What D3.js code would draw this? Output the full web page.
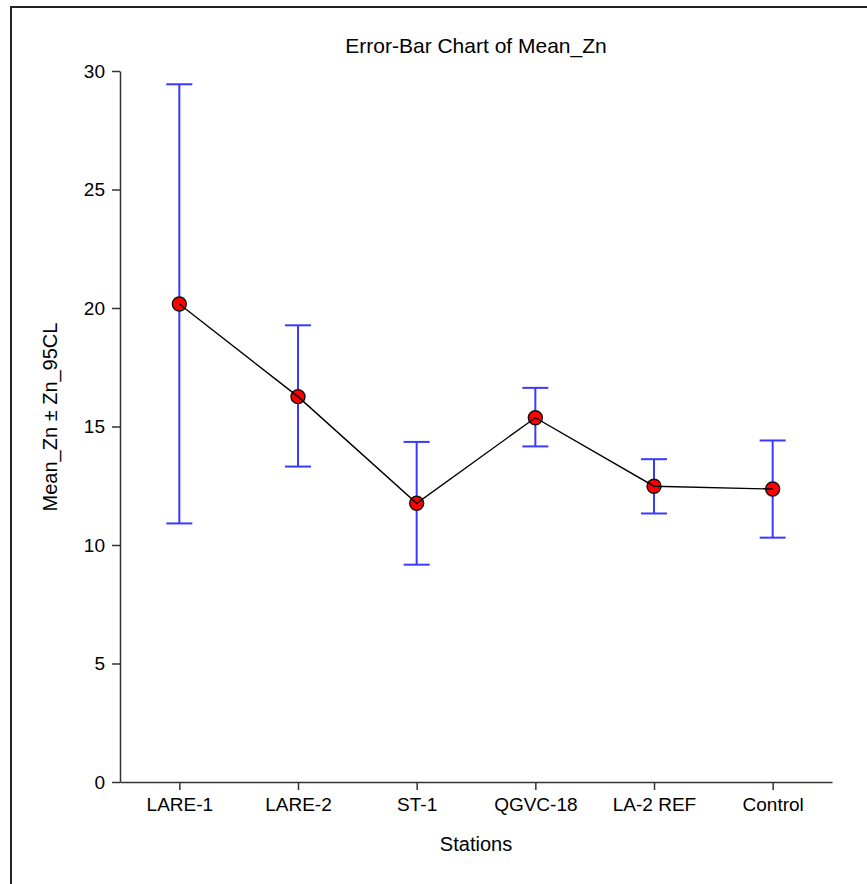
<!DOCTYPE html>
<html>
<head>
<meta charset="utf-8">
<script src="https://cdn.jsdelivr.net/npm/d3@7"></script>
<style>
  body { margin: 0; background: #fff; }
  text { font-family: "Liberation Sans", Arial, sans-serif; fill: #000; }
</style>
</head>
<body>
<div id="chart"></div>
<script>
// values
const stations = ["LARE-1", "LARE-2", "ST-1", "QGVC-18", "LA-2 REF", "Control"]
const meanZn   = [20.17, 16.26, 11.76, 15.37, 12.48, 12.36]
const upperCL  = [29.44, 19.27, 14.35, 16.63, 13.62, 14.41]
const lowerCL  = [10.91, 13.31, 9.17, 14.16, 11.33, 10.31]
const yTicks   = [0, 5, 10, 15, 20, 25, 30]

const width = 867, height = 884
const margin = { left: 120, right: 35, top: 71, bottom: 102 }

const svg = d3.select("#chart").append("svg")
  .attr("width", width)
  .attr("height", height)

// outer frame
svg.append("rect")
  .attr("x", 11).attr("y", 7)
  .attr("width", width + 20).attr("height", height + 20)
  .attr("fill", "none")
  .attr("stroke", "#222")
  .attr("stroke-width", 2)

const data = stations.map((s, i) => ({ s: s, m: meanZn[i], hi: upperCL[i], lo: lowerCL[i] }))

const x = d3.scalePoint()
  .domain(stations)
  .range([margin.left, width - margin.right])
  .padding(0.5)

const y = d3.scaleLinear()
  .domain([0, 30])
  .range([height - margin.bottom, margin.top])

// axes
const xAxis = svg.append("g")
  .attr("transform", "translate(0," + (height - margin.bottom) + ")")
  .call(d3.axisBottom(x).tickSize(8).tickPadding(8).tickSizeOuter(0))
const yAxis = svg.append("g")
  .attr("transform", "translate(" + margin.left + ",0)")
  .call(d3.axisLeft(y).tickValues(yTicks).tickSize(8).tickPadding(7).tickSizeOuter(0))

;[xAxis, yAxis].forEach(a => {
  a.select(".domain").attr("stroke", "#333").attr("stroke-width", 1.5)
  a.selectAll(".tick line").attr("stroke", "#333").attr("stroke-width", 1.5)
  a.selectAll("text")
    .attr("font-family", "Liberation Sans, Arial, sans-serif")
    .attr("font-size", 19)
    .attr("fill", "#000")
})

// error bars
const cap = 13
const bars = svg.append("g")
  .attr("stroke", "#3a3aff")
  .attr("stroke-width", 2)
  .attr("fill", "none")
bars.selectAll(".stem").data(data).enter().append("line")
  .attr("x1", d => x(d.s)).attr("x2", d => x(d.s))
  .attr("y1", d => y(d.lo)).attr("y2", d => y(d.hi))
bars.selectAll(".capHi").data(data).enter().append("line")
  .attr("x1", d => x(d.s) - cap).attr("x2", d => x(d.s) + cap)
  .attr("y1", d => y(d.hi)).attr("y2", d => y(d.hi))
bars.selectAll(".capLo").data(data).enter().append("line")
  .attr("x1", d => x(d.s) - cap).attr("x2", d => x(d.s) + cap)
  .attr("y1", d => y(d.lo)).attr("y2", d => y(d.lo))

// markers
svg.append("g").selectAll("circle").data(data).enter().append("circle")
  .attr("cx", d => x(d.s))
  .attr("cy", d => y(d.m))
  .attr("r", 7)
  .attr("fill", "#ff0000")
  .attr("stroke", "#111")
  .attr("stroke-width", 1.4)

// connecting line drawn on top of the markers
const line = d3.line().x(d => x(d.s)).y(d => y(d.m))
svg.append("path")
  .datum(data)
  .attr("d", line)
  .attr("fill", "none")
  .attr("stroke", "#000")
  .attr("stroke-width", 1.4)

// titles
const cx = (margin.left + width - margin.right) / 2
svg.append("text")
  .attr("x", cx).attr("y", 53)
  .attr("text-anchor", "middle")
  .attr("font-size", 21)
  .text("Error-Bar Chart of Mean_Zn")

svg.append("text")
  .attr("x", cx).attr("y", 851)
  .attr("text-anchor", "middle")
  .attr("font-size", 20)
  .text("Stations")

svg.append("text")
  .attr("transform", "translate(57,417) rotate(-90)")
  .attr("text-anchor", "middle")
  .attr("font-size", 20)
  .text("Mean_Zn ± Zn_95CL")
</script>
</body>
</html>
